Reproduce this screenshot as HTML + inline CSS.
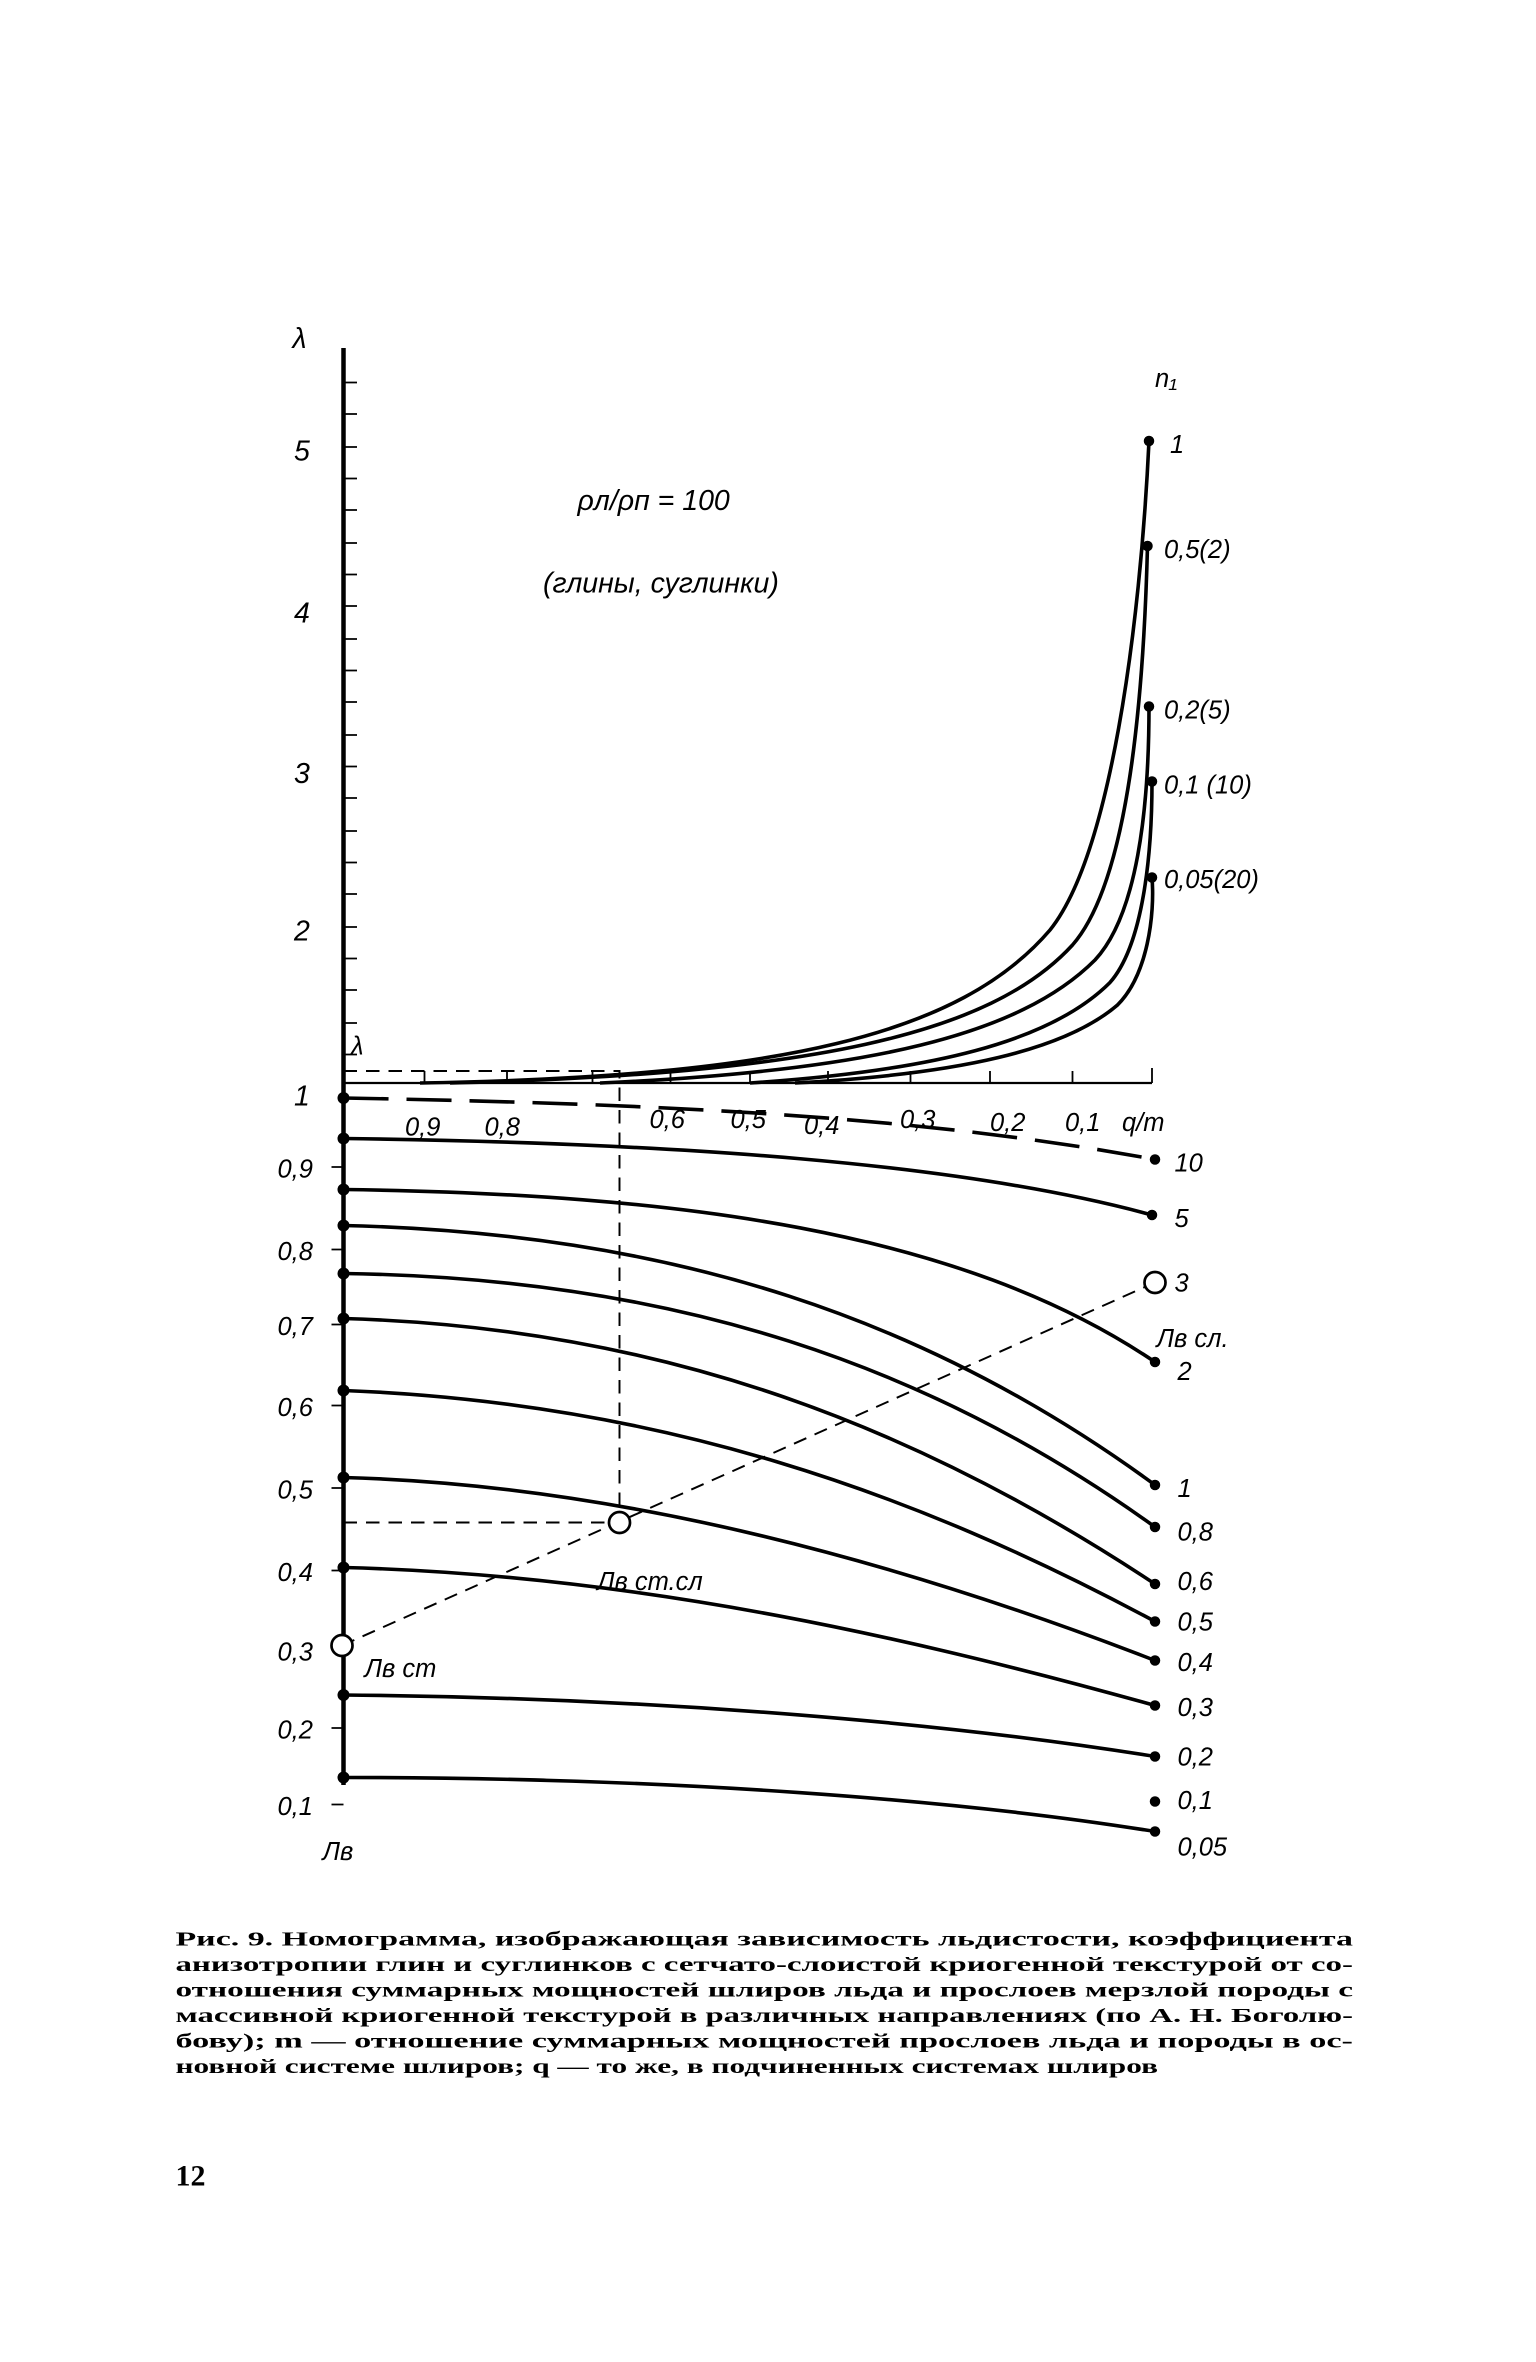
<!DOCTYPE html>
<html><head><meta charset="utf-8"><style>html,body{margin:0;padding:0;background:#fff}svg{display:block}</style></head>
<body>
<svg width="1536" height="2362" viewBox="0 0 1024 1574.67" xmlns="http://www.w3.org/2000/svg" font-family="Liberation Sans, DejaVu Sans, sans-serif">
<rect width="1024" height="1574.67" fill="#fff"/>
<g stroke="#000" fill="none">
<line x1="229" y1="232" x2="229" y2="1190" stroke-width="3"/>
<line x1="229" y1="722" x2="768" y2="722" stroke-width="1.5"/>
<g stroke-width="1.2">
<path d="M229 255h9M229 276h9M229 298h9M229 319h9M229 340h9M229 362h9M229 383h9M229 404h9M229 426h9M229 447h9M229 468h9M229 490h9M229 511h9M229 532h9M229 554h9M229 575h9M229 596h9M229 618h9M229 639h9M229 660h9M229 682h9M229 703h9"/>
<path d="M283 722v-8M338 722v-8M395 722v-8M447 722v-8M500 722v-8M552 722v-8M607 722v-8M660 722v-8M715 722v-8M768 722v-10"/>
<path d="M221 778h8M221 833h8M221 883h8M221 937h8M221 992h8M221 1047h8M221 1100h8M221 1152h8M221 1203h8"/>
</g>
<g stroke-width="2.4">
<path d="M280 722 C520 718 640 690 700 620 C740 570 760 420 766 294"/>
<path d="M300 722 C540 716 660 690 715 630 C750 590 762 480 765 364"/>
<path d="M400 722 C580 714 680 690 730 640 C758 610 766 540 766 471"/>
<path d="M500 722 C620 714 700 695 740 655 C762 630 768 570 768 521"/>
<path d="M530 722 C640 716 710 700 745 670 C765 650 770 610 768 585"/>
</g>
<g stroke-width="2.4">
<path d="M229 732 C450 736 620 745 770 773" stroke-dasharray="30 12"/>
<path d="M229 759 C450 762 640 775 768 810"/>
<path d="M229 793 C450 796 640 820 770 908"/>
<path d="M229 817 C450 822 620 880 770 990"/>
<path d="M229 849 C450 852 620 910 770 1018"/>
<path d="M229 879 C440 885 610 950 770 1056"/>
<path d="M229 927 C440 935 610 995 770 1081"/>
<path d="M229 985 C420 990 610 1045 770 1107"/>
<path d="M229 1045 C430 1050 620 1095 770 1137"/>
<path d="M229 1130 C450 1132 640 1150 770 1171"/>
<path d="M229 1185 C450 1185 640 1200 770 1221"/>
</g>
<g stroke-width="1.3" stroke-dasharray="9 6">
<path d="M229 714H413V1015H229"/>
<path d="M228 1097L770 855"/>
</g>
</g>
<g fill="#000">
<circle cx="766" cy="294" r="3.5"/><circle cx="765" cy="364" r="3.5"/><circle cx="766" cy="471" r="3.5"/><circle cx="768" cy="521" r="3.5"/><circle cx="768" cy="585" r="3.5"/>
<circle cx="229" cy="732" r="4"/><circle cx="229" cy="759" r="4"/><circle cx="229" cy="793" r="4"/><circle cx="229" cy="817" r="4"/><circle cx="229" cy="849" r="4"/><circle cx="229" cy="879" r="4"/><circle cx="229" cy="927" r="4"/><circle cx="229" cy="985" r="4"/><circle cx="229" cy="1045" r="4"/><circle cx="229" cy="1130" r="4"/><circle cx="229" cy="1185" r="4"/>
<circle cx="770" cy="773" r="3.5"/><circle cx="768" cy="810" r="3.5"/><circle cx="770" cy="908" r="3.5"/><circle cx="770" cy="990" r="3.5"/><circle cx="770" cy="1018" r="3.5"/><circle cx="770" cy="1056" r="3.5"/><circle cx="770" cy="1081" r="3.5"/><circle cx="770" cy="1107" r="3.5"/><circle cx="770" cy="1137" r="3.5"/><circle cx="770" cy="1171" r="3.5"/><circle cx="770" cy="1201" r="3.5"/><circle cx="770" cy="1221" r="3.5"/>
</g>
<g fill="#fff" stroke="#000" stroke-width="1.8">
<circle cx="228" cy="1097" r="7"/><circle cx="413" cy="1015" r="7"/><circle cx="770" cy="855" r="7"/>
</g>
<g font-style="italic" font-size="19" fill="#000">
<text x="195" y="232">λ</text>
<text x="196" y="307">5</text><text x="196" y="415">4</text><text x="196" y="522">3</text><text x="196" y="627">2</text><text x="196" y="737">1</text>
<text x="234" y="703" font-size="17">λ</text>
<text x="770" y="258" font-size="17">n₁</text>
<text x="385" y="340">ρл/ρп = 100</text>
<text x="362" y="395">(глины,  суглинки)</text>
<g font-size="17">
<text x="780" y="302">1</text><text x="776" y="372">0,5(2)</text><text x="776" y="479">0,2(5)</text><text x="776" y="529">0,1 (10)</text><text x="776" y="592">0,05(20)</text>
<text x="270" y="757">0,9</text><text x="323" y="757">0,8</text><text x="433" y="752">0,6</text><text x="487" y="752">0,5</text><text x="536" y="756">0,4</text><text x="600" y="752">0,3</text><text x="660" y="754">0,2</text><text x="710" y="754">0,1</text><text x="748" y="754">q/m</text>
<text x="783" y="781">10</text><text x="783" y="818">5</text><text x="783" y="861">3</text><text x="771" y="898">Лв сл.</text><text x="785" y="920">2</text>
<text x="785" y="998">1</text><text x="785" y="1027">0,8</text><text x="785" y="1060">0,6</text><text x="785" y="1087">0,5</text><text x="785" y="1114">0,4</text><text x="785" y="1144">0,3</text><text x="785" y="1177">0,2</text><text x="785" y="1206">0,1</text><text x="785" y="1237">0,05</text>
<text x="398" y="1060">Лв ст.сл</text>
<text x="243" y="1118">Лв ст</text>
<text x="185" y="785">0,9</text><text x="185" y="840">0,8</text><text x="185" y="890">0,7</text><text x="185" y="944">0,6</text><text x="185" y="999">0,5</text><text x="185" y="1054">0,4</text><text x="185" y="1107">0,3</text><text x="185" y="1159">0,2</text><text x="185" y="1210">0,1</text>
<text x="215" y="1240">Лв</text>
</g>
</g>
<g font-family="Liberation Serif, DejaVu Serif, serif" font-weight="bold" font-size="13.5" fill="#000">
<text x="117" y="1297" textLength="785" lengthAdjust="spacingAndGlyphs">Рис. 9. Номограмма, изображающая зависимость льдистости, коэффициента</text>
<text x="117" y="1314" textLength="785" lengthAdjust="spacingAndGlyphs">анизотропии глин и суглинков с сетчато-слоистой криогенной текстурой от со-</text>
<text x="117" y="1331" textLength="785" lengthAdjust="spacingAndGlyphs">отношения суммарных мощностей шлиров льда и прослоев мерзлой породы с</text>
<text x="117" y="1348" textLength="785" lengthAdjust="spacingAndGlyphs">массивной криогенной текстурой в различных направлениях (по А. Н. Боголю-</text>
<text x="117" y="1365" textLength="785" lengthAdjust="spacingAndGlyphs">бову); m — отношение суммарных мощностей прослоев льда и породы в ос-</text>
<text x="117" y="1382" textLength="655" lengthAdjust="spacingAndGlyphs">новной системе шлиров; q — то же, в подчиненных системах шлиров</text>
<text x="117" y="1457" font-size="20">12</text>
</g>
</svg>
</body></html>
